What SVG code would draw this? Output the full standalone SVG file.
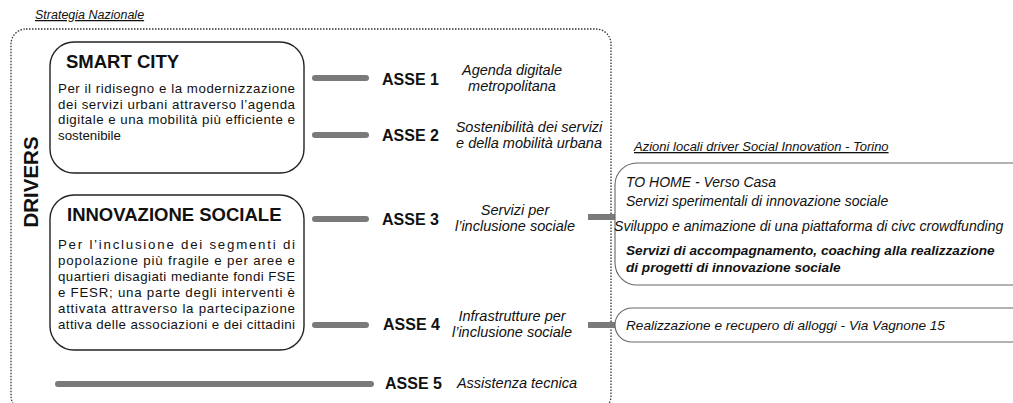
<svg xmlns="http://www.w3.org/2000/svg" width="1013" height="403" viewBox="0 0 1013 403">
<style>
text{font-family:"Liberation Sans",Arial,sans-serif;fill:#111}
.ttl{font-weight:bold;font-size:18.5px}
.body{font-size:13.3px}
.asse{font-weight:bold;font-size:16px}
.desc{font-style:italic;font-size:14.5px;text-anchor:middle}
.cap{font-style:italic;font-size:12.5px;text-decoration:underline}
.act{font-style:italic;font-size:14px}
.bar{stroke:#7a7a7a;stroke-width:6;stroke-linecap:round;fill:none}
.lbox{fill:#fff;stroke:#222;stroke-width:1.4}
.rbox{fill:#fff;stroke:#666;stroke-width:1.1}
</style>
<rect width="1013" height="403" fill="#fff"/>
<g id="frame">
<rect x="11" y="29" width="600" height="382" rx="15" fill="none" stroke="#333" stroke-width="1.3" stroke-dasharray="1.5 1.5"/>
<text class="cap" x="35" y="19">Strategia Nazionale</text>
<text x="0" y="0" transform="translate(38,182) rotate(-90)" text-anchor="middle" style="font-weight:bold;font-size:20.5px">DRIVERS</text>
</g>
<g id="connectors">
<line class="bar" x1="315" y1="78" x2="366" y2="78"/>
<line class="bar" x1="315" y1="135" x2="366" y2="135"/>
<line class="bar" x1="315" y1="219" x2="366" y2="219"/>
<line class="bar" x1="315" y1="325" x2="366" y2="325"/>
<line class="bar" x1="58" y1="384" x2="371" y2="384"/>
<line class="bar" x1="588" y1="217" x2="616" y2="217" style="stroke-linecap:butt"/>
<line class="bar" x1="588" y1="325" x2="616" y2="325" style="stroke-linecap:butt"/>
</g>
<g id="smart-city">
<rect class="lbox" x="50" y="42" width="254" height="131" rx="24"/>
<text class="ttl" x="66" y="68">SMART CITY</text>
<text class="body" x="58" y="93" textLength="237" lengthAdjust="spacing">Per il ridisegno e la modernizzazione</text>
<text class="body" x="58" y="109" textLength="237" lengthAdjust="spacing">dei servizi urbani attraverso l’agenda</text>
<text class="body" x="58" y="124" textLength="237" lengthAdjust="spacing">digitale e una mobilità più efficiente e</text>
<text class="body" x="58" y="140">sostenibile</text>
</g>
<g id="innovazione-sociale">
<rect class="lbox" x="50" y="195" width="254" height="155" rx="24"/>
<text class="ttl" x="67" y="221">INNOVAZIONE SOCIALE</text>
<text class="body" x="58" y="249" textLength="237" lengthAdjust="spacing">Per l’inclusione dei segmenti di</text>
<text class="body" x="58" y="265" textLength="237" lengthAdjust="spacing">popolazione più fragile e per aree e</text>
<text class="body" x="58" y="281" textLength="237" lengthAdjust="spacing">quartieri disagiati mediante fondi FSE</text>
<text class="body" x="58" y="297" textLength="237" lengthAdjust="spacing">e FESR; una parte degli interventi è</text>
<text class="body" x="58" y="313" textLength="237" lengthAdjust="spacing">attivata attraverso la partecipazione</text>
<text class="body" x="58" y="329" textLength="237" lengthAdjust="spacing">attiva delle associazioni e dei cittadini</text>
</g>
<g id="asse1">
<text class="asse" x="382" y="85">ASSE 1</text>
<text class="desc" x="512" y="75">Agenda digitale</text>
<text class="desc" x="512" y="91">metropolitana</text>
</g>
<g id="asse2">
<text class="asse" x="382" y="141">ASSE 2</text>
<text class="desc" x="529" y="132">Sostenibilità dei servizi</text>
<text class="desc" x="529" y="148">e della mobilità urbana</text>
</g>
<g id="asse3">
<text class="asse" x="382" y="225">ASSE 3</text>
<text class="desc" x="515" y="215">Servizi per</text>
<text class="desc" x="515" y="231">l’inclusione sociale</text>
</g>
<g id="asse4">
<text class="asse" x="383" y="330">ASSE 4</text>
<text class="desc" x="512" y="321">Infrastrutture per</text>
<text class="desc" x="512" y="337">l’inclusione sociale</text>
</g>
<g id="asse5">
<text class="asse" x="385" y="389">ASSE 5</text>
<text class="desc" x="517" y="388">Assistenza tecnica</text>
</g>
<g id="azioni-locali">
<text class="cap" x="634" y="151" style="font-size:13px">Azioni locali  driver Social Innovation - Torino</text>
<rect class="rbox" x="615" y="163" width="430" height="122" rx="22"/>
<text class="act" x="626" y="187">TO HOME - Verso Casa</text>
<text class="act" x="626" y="206">Servizi sperimentali di innovazione sociale</text>
<text class="act" x="614" y="231" style="font-size:14.1px">Sviluppo e animazione di una piattaforma di civc crowdfunding</text>
<text class="act" x="626" y="255" style="font-weight:bold;font-size:13.6px">Servizi di accompagnamento, coaching alla realizzazione</text>
<text class="act" x="626" y="272" style="font-weight:bold;font-size:13.6px">di progetti di innovazione sociale</text>
</g>
<g id="vagnone">
<rect class="rbox" x="615" y="308" width="430" height="34" rx="17"/>
<text class="act" x="626" y="330" style="font-size:13.6px">Realizzazione e recupero di alloggi - Via Vagnone 15</text>
</g>
</svg>
